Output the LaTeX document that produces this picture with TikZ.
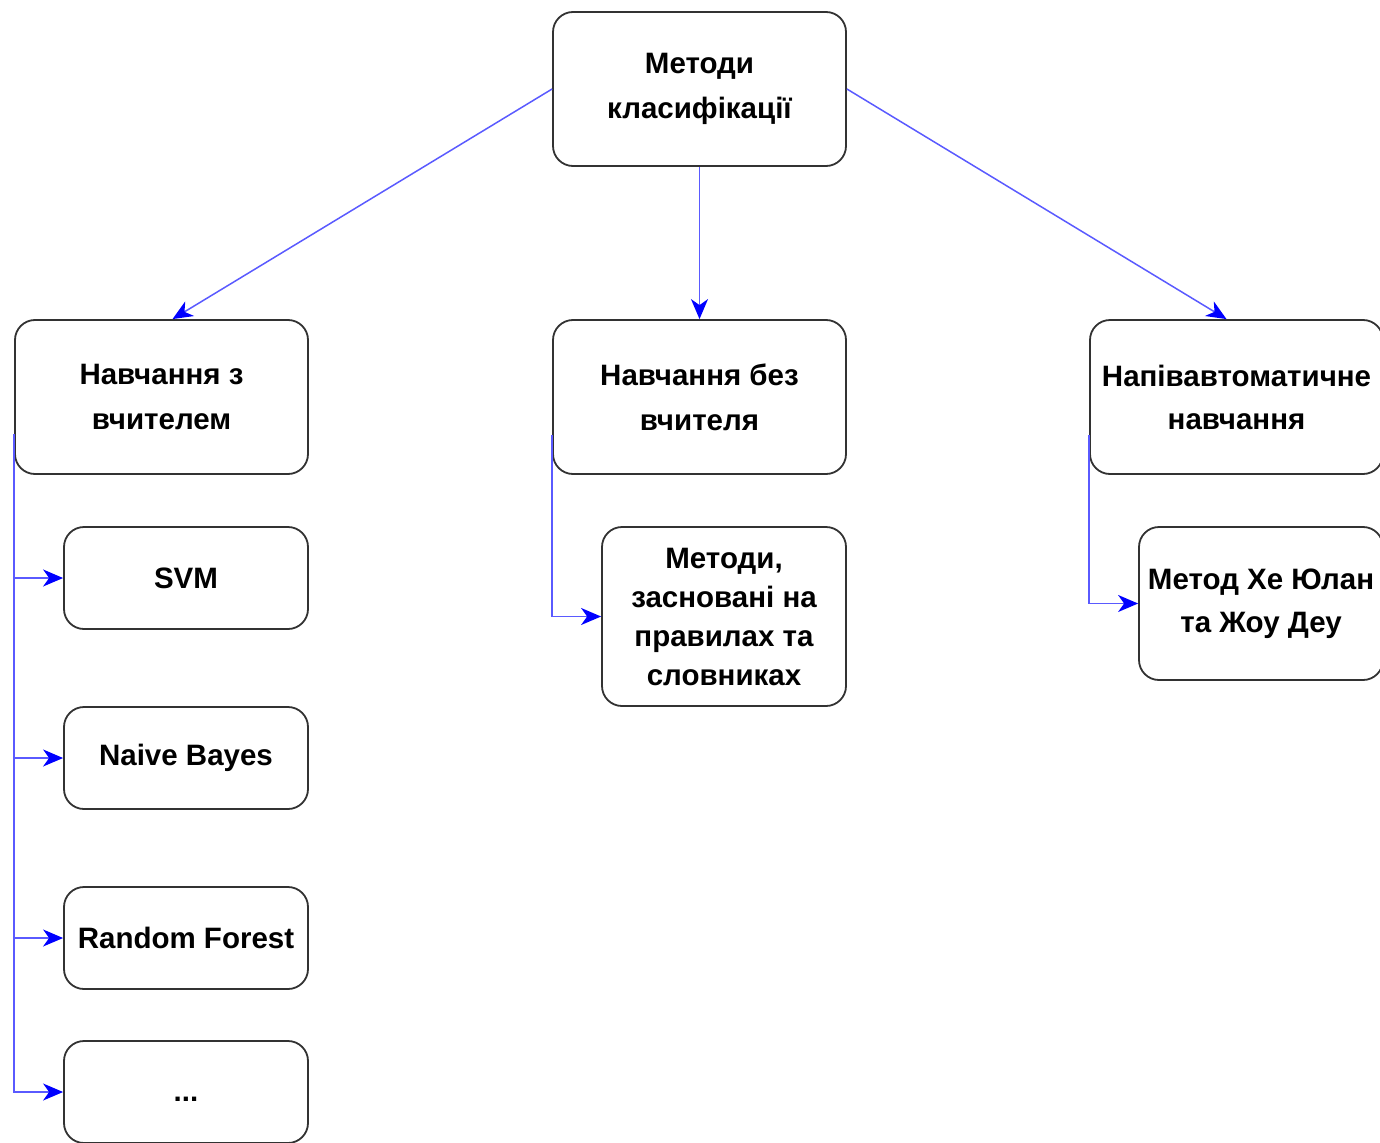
\documentclass[tikz,border=0pt]{standalone}
\usepackage{fontspec}
\setmainfont{Liberation Sans}
\usetikzlibrary{arrows.meta,positioning}
\definecolor{edgeblue}{RGB}{90,90,255}
\definecolor{boxline}{RGB}{50,50,50}
\tikzset{
  box/.style={draw=boxline, line width=1.8pt, rounded corners=20pt, fill=white,
    minimum width=293pt, minimum height=154pt, inner sep=0pt, align=center,
    font=\fontsize{29.5}{45}\selectfont\bfseries},
  sbox/.style={box, minimum width=244pt, minimum height=102pt},
  edge/.style={draw=edgeblue, line width=1.5pt,
    -{Stealth[length=20pt,width=17pt,inset=6pt,color=blue]}}
}
\begin{document}
\begin{tikzpicture}[x=1pt,y=-1pt]
\useasboundingbox (0,0) rectangle (1380,1142);
\begin{scope}
\clip (0,0) rectangle (1380,1142);
\node[box] (top) at (699.5,89) {Методи\\класифікації};
\node[box] (left) at (161.5,397) {Навчання з\\вчителем};
\node[box] (mid) at (699.5,397) {Навчання без\\вчителя};
\node[box, font=\fontsize{29.5}{43}\selectfont\bfseries] (right) at (1236.5,397) {Напівавтоматичне\\навчання};
\node[sbox] (svm) at (186,578) {SVM};
\node[sbox] (nb) at (186,758) {Naive Bayes};
\node[sbox] (rf) at (186,938) {Random Forest};
\node[sbox] (etc) at (186,1092) {\raisebox{-9pt}[0pt][0pt]{...}};
\node[sbox, minimum height=179pt, font=\fontsize{29.5}{39}\selectfont\bfseries] (rules) at (724,616.5) {Методи,\\засновані на\\правилах та\\словниках};
\node[sbox, minimum height=153pt, font=\fontsize{29.5}{43}\selectfont\bfseries] (he) at (1261,603.5) {Метод Хе Юлан\\та Жоу Деу};

\draw[edge] (top.west) -- ([xshift=11pt]left.north);
\draw[edge] (top.south) -- (mid.north);
\draw[edge] (top.east) -- ([xshift=-10pt]right.north);

\draw[edge] ([yshift=-37pt]left.west) |- (svm.west);
\draw[edge] ([yshift=-37pt]left.west) |- (nb.west);
\draw[edge] ([yshift=-37pt]left.west) |- (rf.west);
\draw[edge] ([yshift=-37pt]left.west) |- (etc.west);
\draw[edge] ([yshift=-38pt]mid.west) |- (rules.west);
\draw[edge] ([yshift=-38pt]right.west) |- (he.west);
\end{scope}
\end{tikzpicture}
\end{document}
